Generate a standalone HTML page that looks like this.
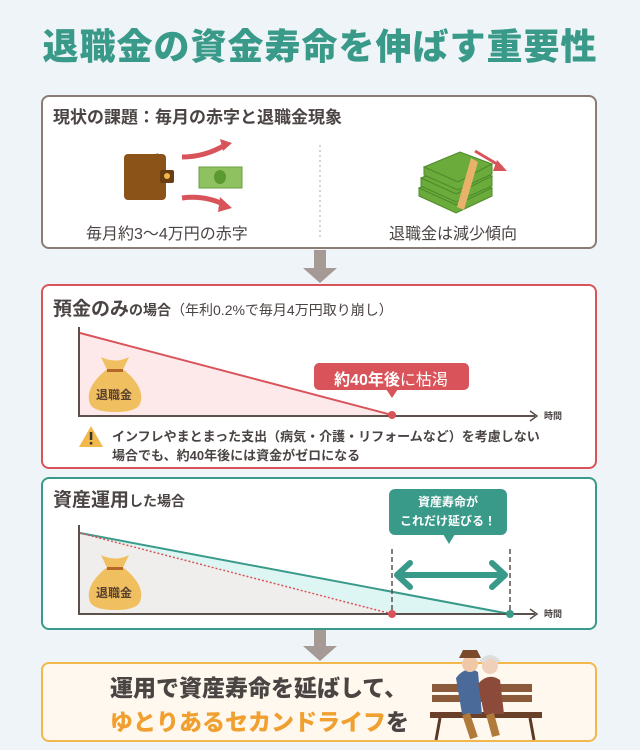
<!DOCTYPE html>
<html><head><meta charset="utf-8"><style>
body{margin:0;width:640px;height:750px;background:#eef4f7;font-family:"Liberation Sans","Noto Sans CJK JP",sans-serif;position:relative;overflow:hidden;color:#4a4443}
.a{position:absolute;white-space:nowrap}
.box{position:absolute;left:41px;width:552px;background:#fff;border-radius:8px}
</style></head><body>
<div class="a" style="left:0;width:640px;text-align:center;top:18px;font-size:36px;font-weight:900;color:#3a9a8a;letter-spacing:1px">退職金の資金寿命を伸ばす重要性</div>

<div class="box" style="top:95px;height:150px;border:2px solid #8b7d76"></div>
<div class="box" style="top:284px;height:181px;border:2px solid #d9545a"></div>
<div class="box" style="top:477px;height:149px;border:2px solid #3a9a8a"></div>
<div class="box" style="top:662px;height:76px;border:2px solid #f2b84b;background:#fff8ee"></div>

<svg class="a" style="left:0;top:0" width="640" height="750">
<line x1="320" y1="145" x2="320" y2="237" stroke="#aaa" stroke-dasharray="2,3"/>
<rect x="130" y="158" width="30" height="6" fill="#8fa860" transform="rotate(-20 145 161)"/>
<rect x="124" y="154" width="42" height="46" rx="4" fill="#8b5318"/>
<rect x="160" y="170" width="14" height="13" rx="2" fill="#6b3e12"/>
<circle cx="167" cy="176" r="3" fill="#f2b84b"/>
<rect x="199" y="167" width="43" height="21" fill="#8fc160" stroke="#6aa040"/>
<ellipse cx="220" cy="177" rx="6" ry="7" fill="#5a9a30"/>
<path d="M182 157 Q205 157 225 145" stroke="#d9545a" stroke-width="5" fill="none"/><path d="M220 139 L232 143 L223 151Z" fill="#d9545a"/>
<path d="M182 198 Q205 195 225 205" stroke="#d9545a" stroke-width="5" fill="none"/><path d="M220 197 L232 208 L218 212Z" fill="#d9545a"/>
<g transform="translate(26,0)" fill="#6aab3c" stroke="#4e8a2a">
<path d="M393 188 L430 172 L466 188 L430 205Z"/><path d="M393 188 V196 L430 213 L466 196 V188 L430 205Z"/>
<path d="M395 178 L432 162 L466 176 L430 194Z"/><path d="M395 178 V186 L430 202 L466 186 V176 L430 194Z"/>
<path d="M398 167 L434 152 L466 164 L432 182Z"/><path d="M398 167 V175 L432 190 L466 174 V164 L432 182Z"/>
<path d="M445 158 L452 162 L438 210 L431 207Z" fill="#e8b26a" stroke="none"/>
</g>
<path d="M475 151 L502 167" stroke="#d9545a" stroke-width="3"/><path d="M497 160 L507 171 L493 171Z" fill="#d9545a"/>
<rect x="314" y="250" width="12" height="20" fill="#a59a95"/><path d="M303 268 L337 268 L320 283Z" fill="#a59a95"/>
<rect x="314" y="630" width="12" height="18" fill="#a59a95"/><path d="M303 646 L337 646 L320 661Z" fill="#a59a95"/>
<path d="M80 333 L392 415 L80 415Z" fill="#fde9ea"/>
<line x1="80" y1="333" x2="392" y2="415" stroke="#d9545a" stroke-width="2"/>
<path d="M79 327 V416 H535" stroke="#5a504c" stroke-width="2" fill="none"/><path d="M530 411 L537 416 L530 421" stroke="#5a504c" stroke-width="1.5" fill="none"/>
<circle cx="392" cy="415" r="4" fill="#d9545a"/>
<rect x="314" y="363" width="155" height="27" rx="5" fill="#d9545a"/><path d="M386 389 L398 389 L392 398Z" fill="#d9545a"/>
<g id="bag"><path d="M101 357 Q115 364 129 357 L122 372 L108 372Z" fill="#f0c060"/><path d="M106 370 Q84 388 90 404 Q94 412 115 412 Q136 412 140 404 Q146 388 124 370Z" fill="#f0c060"/><rect x="107" y="369" width="16" height="3" fill="#b5672a"/></g>
<path d="M91 426 L103 447 L79 447Z" fill="#f2b84b"/><rect x="89.8" y="432" width="2.5" height="8" fill="#333"/><rect x="89.8" y="442" width="2.5" height="2.5" fill="#333"/>
<path d="M80 533 L392 614 L80 614Z" fill="#f0eeec"/>
<path d="M80 533 L510 614 L392 614Z" fill="#def6f3"/>
<line x1="80" y1="533" x2="510" y2="614" stroke="#3a9a8a" stroke-width="2"/>
<line x1="80" y1="533" x2="392" y2="614" stroke="#d9545a" stroke-width="1.5" stroke-dasharray="2,2"/>
<path d="M79 525 V614 H535" stroke="#5a504c" stroke-width="2" fill="none"/><path d="M530 609 L537 614 L530 619" stroke="#5a504c" stroke-width="1.5" fill="none"/>
<line x1="392" y1="549" x2="392" y2="614" stroke="#5a504c" stroke-width="1.5" stroke-dasharray="5,3"/>
<line x1="510" y1="549" x2="510" y2="614" stroke="#5a504c" stroke-width="1.5" stroke-dasharray="5,3"/>
<line x1="397" y1="575" x2="505" y2="575" stroke="#3a9a8a" stroke-width="6"/>
<path d="M410 563 L397 575 L410 587 M492 563 L505 575 L492 587" stroke="#3a9a8a" stroke-width="6" fill="none" stroke-linecap="round" stroke-linejoin="round"/>
<circle cx="392" cy="614" r="4" fill="#d9545a"/><circle cx="510" cy="614" r="4" fill="#3a9a8a"/>
<rect x="389" y="489" width="118" height="46" rx="6" fill="#3a9a8a"/><path d="M443 534 L455 534 L449 544Z" fill="#3a9a8a"/>
<use href="#bag" transform="translate(0,198)"/>
<rect x="432" y="684" width="100" height="8" fill="#8b5a3a"/><rect x="432" y="695" width="100" height="7" fill="#8b5a3a"/>
<rect x="430" y="712" width="112" height="6" fill="#6b4028"/>
<path d="M440 718 L436 740 M530 718 L534 740" stroke="#5a3a26" stroke-width="3"/>
<path d="M456 678 Q466 665 478 672 L482 714 L462 714Z" fill="#4a6b9a"/>
<circle cx="470" cy="664" r="8" fill="#f0c8a8"/><path d="M459 658 L481 658 L477 650 L463 650Z" fill="#7a4a2a"/>
<path d="M478 684 Q488 672 500 680 L504 714 L484 714Z" fill="#8b4a3a"/>
<circle cx="490" cy="666" r="8" fill="#f0d0b8"/><path d="M481 662 Q490 652 499 662" stroke="#ddd" stroke-width="4" fill="none"/>
<path d="M466 714 L474 738 M490 714 L496 736" stroke="#b07a3a" stroke-width="8"/>
</svg>

<div class="a" style="left:53px;top:103px;font-size:17px;font-weight:700">現状の課題：毎月の赤字と退職金現象</div>
<div class="a" style="left:86px;top:220px;font-size:16px">毎月約3〜4万円の赤字</div>
<div class="a" style="left:389px;top:220px;font-size:16px">退職金は減少傾向</div>

<div class="a" style="left:53px;top:294px;font-size:19px;font-weight:700">預金のみ<span style="font-size:14px">の場合</span><span style="font-size:14px;font-weight:400">（年利0.2%で毎月4万円取り崩し）</span></div>
<div class="a" style="left:318px;top:366px;width:146px;text-align:center;font-size:16px;color:#fff"><b>約40年後</b>に枯渇</div>
<div class="a" style="left:96px;top:386px;font-size:12px;font-weight:700;color:#5a4030">退職金</div>
<div class="a" style="left:96px;top:584px;font-size:12px;font-weight:700;color:#5a4030">退職金</div>
<div class="a" style="left:544px;top:409px;font-size:9px;font-weight:700">時間</div>
<div class="a" style="left:544px;top:607px;font-size:9px;font-weight:700">時間</div>
<div class="a" style="left:112px;top:427px;font-size:13px;font-weight:700;line-height:19px">インフレやまとまった支出（病気・介護・リフォームなど）を考慮しない<br>場合でも、約40年後には資金がゼロになる</div>

<div class="a" style="left:53px;top:485px;font-size:19px;font-weight:700">資産運用<span style="font-size:14px">した場合</span></div>
<div class="a" style="left:389px;top:493px;width:118px;text-align:center;font-size:12px;font-weight:700;color:#fff;line-height:19px">資産寿命が<br>これだけ延びる！</div>

<div class="a" style="left:110px;top:671px;font-size:23px;font-weight:900;line-height:34px">運用で資産寿命を延ばして、<br><span style="color:#f0a030">ゆとりあるセカンドライフ</span>を</div>
</body></html>
